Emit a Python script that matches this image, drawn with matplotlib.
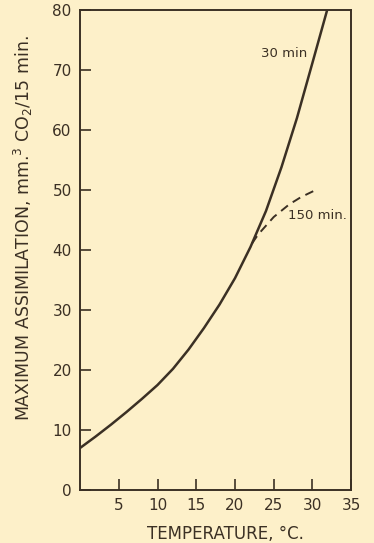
import numpy as np
import matplotlib
matplotlib.use('Agg')
import matplotlib.pyplot as plt

# 30 min curve
temp_30 = [0, 2, 4, 6, 8, 10, 12, 14, 16, 18, 20, 22, 24, 26, 28, 30, 31.9]
assim_30 = [7, 8.9, 10.9, 13.0, 15.2, 17.5, 20.2, 23.4, 27.0, 30.9, 35.3,
            40.5, 46.5, 53.8, 62.0, 71.2, 80]

# 150 min curve (dashed branch)
temp_150 = [22.2, 23, 25, 27, 28.5, 30.1]
assim_150 = [41.1, 42.6, 45.5, 47.6, 48.8, 49.8]

xticks = [5, 10, 15, 20, 25, 30, 35]
yticks = [0, 10, 20, 30, 40, 50, 60, 70, 80]

bg = '#fdf0c9'
ink = '#3b3024'

plt.rcParams['font.family'] = ['DejaVu Sans']
fig = plt.figure(figsize=(3.74, 5.43), dpi=100, facecolor=bg)
ax = fig.add_axes([0.214, 0.0976, 0.725, 0.884])
ax.set_facecolor(bg)

ax.plot(temp_30, assim_30, color=ink, lw=1.8, solid_capstyle='round',
        solid_joinstyle='round')
ax.plot(temp_150, assim_150, color=ink, lw=1.4, ls=(0, (4.5, 3)))

ax.text(26.4, 72.8, '30 min', color=ink, fontsize=9.5, ha='center', va='center')
ax.text(26.9, 45.7, '150 min.', color=ink, fontsize=9.5, ha='left', va='center')

ax.set_xlim(0, 35)
ax.set_ylim(0, 80)
ax.set_xticks(xticks)
ax.set_yticks(yticks)
ax.tick_params(direction='in', length=8, width=1.2, colors=ink, labelsize=11)
ax.tick_params(axis='x', pad=6)
ax.tick_params(axis='y', pad=6)
for s in ax.spines.values():
    s.set_color(ink)
    s.set_linewidth(1.4)

ax.set_xlabel('TEMPERATURE, °C.', color=ink, fontsize=12)
ax.xaxis.set_label_coords(0.535, -0.072)
ax.set_ylabel('MAXIMUM ASSIMILATION, mm.$^3$ CO$_2$/15 min.', color=ink,
              fontsize=12.5)
ax.yaxis.set_label_coords(-0.165, 0.546)

fig.savefig('out.png', dpi=100, facecolor=bg)
